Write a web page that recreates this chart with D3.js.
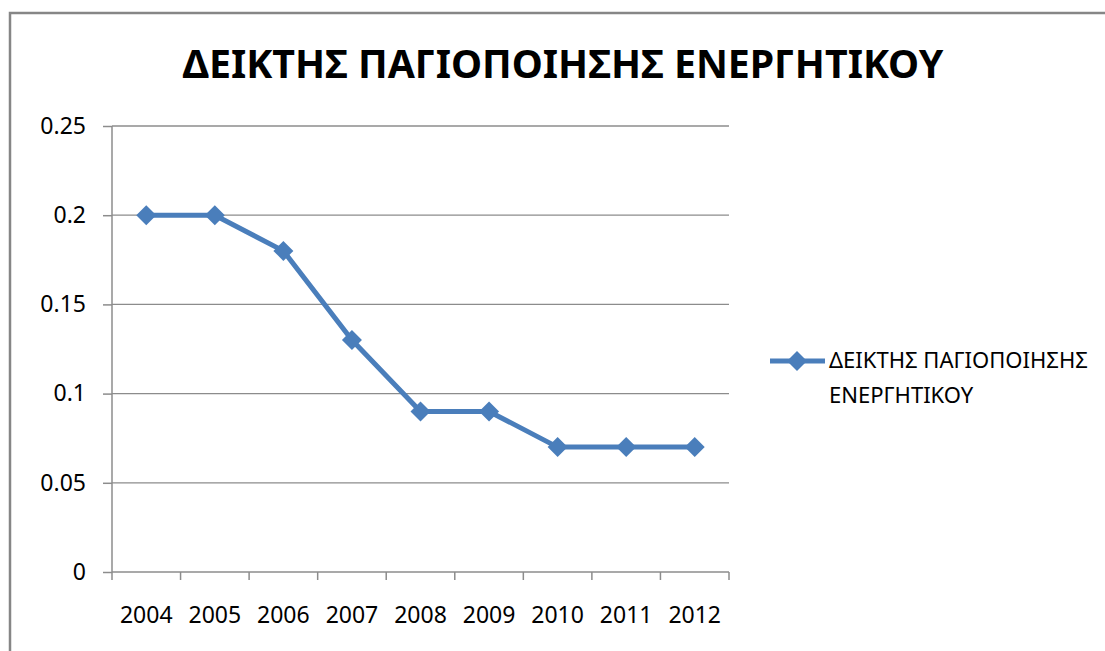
<!DOCTYPE html>
<html>
<head>
<meta charset="utf-8">
<script src="https://cdn.jsdelivr.net/npm/d3@7"></script>
<style>
  body { margin: 0; background: #fff; }
  svg text { font-family: "Noto Sans", "Open Sans", sans-serif; fill: #000; }
</style>
</head>
<body>
<div id="chart"></div>
<script>
// Data
const years = ["2004", "2005", "2006", "2007", "2008", "2009", "2010", "2011", "2012"];
const values = [0.2, 0.2, 0.18, 0.13, 0.09, 0.09, 0.07, 0.07, 0.07];
const yTicks = [0, 0.05, 0.1, 0.15, 0.2, 0.25];
const chartTitle = "ΔΕΙΚΤΗΣ ΠΑΓΙΟΠΟΙΗΣΗΣ ΕΝΕΡΓΗΤΙΚΟΥ";
const legendLines = ["ΔΕΙΚΤΗΣ ΠΑΓΙΟΠΟΙΗΣΗΣ", "ΕΝΕΡΓΗΤΙΚΟΥ"];

const W = 1105, H = 651;
const plot = {left: 112, right: 729, top: 126, bottom: 572};
const blue = "#4a7ebb";
const grid = "#8c8c8c";

const svg = d3.select("#chart").append("svg")
    .attr("width", W)
    .attr("height", H);

// outer chart border
svg.append("rect")
    .attr("x", 10).attr("y", 13)
    .attr("width", W + 20).attr("height", H + 20)
    .attr("fill", "none")
    .attr("stroke", "#868686")
    .attr("stroke-width", 2.5);

// Scales
const x = d3.scaleBand().domain(years).range([plot.left, plot.right]);
const y = d3.scaleLinear().domain([0, 0.25]).range([plot.bottom, plot.top]);

// Gridlines
svg.append("g")
    .selectAll("line")
    .data(yTicks.slice(1))
    .join("line")
    .attr("x1", plot.left).attr("x2", plot.right)
    .attr("y1", d => y(d)).attr("y2", d => y(d))
    .attr("stroke", grid).attr("stroke-width", 1.3);

// Y axis
const yAxis = svg.append("g")
    .attr("transform", `translate(${plot.left},0)`)
    .call(d3.axisLeft(y).tickValues(yTicks).tickSize(9).tickPadding(17)
        .tickFormat(d => String(+d.toFixed(2))));
yAxis.select(".domain").attr("stroke", grid).attr("stroke-width", 1.5).attr("d", `M0,${plot.top}V${plot.bottom}`);
yAxis.selectAll(".tick line").attr("stroke", grid).attr("stroke-width", 1.5);
yAxis.selectAll(".tick text").attr("font-size", 23).attr("font-family", "Noto Sans").attr("fill", "#000");

// X axis (ticks at band edges)
const xAxis = svg.append("g")
    .attr("transform", `translate(0,${plot.bottom})`);
xAxis.append("line")
    .attr("x1", plot.left).attr("x2", plot.right)
    .attr("stroke", grid).attr("stroke-width", 1.5);
const edges = years.map(d => x(d)).concat([x(years[years.length - 1]) + x.bandwidth()]);
xAxis.selectAll(".xt")
    .data(edges)
    .join("line")
    .attr("x1", d => d).attr("x2", d => d)
    .attr("y1", 0).attr("y2", 8)
    .attr("stroke", grid).attr("stroke-width", 1.5);
xAxis.selectAll(".xl")
    .data(years)
    .join("text")
    .attr("x", d => x(d) + x.bandwidth() / 2)
    .attr("y", 51)
    .attr("text-anchor", "middle")
    .attr("font-size", 23)
    .text(d => d);

// Line
const cx = (d, i) => x(years[i]) + x.bandwidth() / 2;
svg.append("path")
    .datum(values)
    .attr("fill", "none")
    .attr("stroke", blue)
    .attr("stroke-width", 5)
    .attr("stroke-linejoin", "round")
    .attr("d", d3.line().x(cx).y(d => y(d)));

const diamond = d3.symbol().type(d3.symbolSquare).size(200);
svg.append("g")
    .selectAll("path")
    .data(values)
    .join("path")
    .attr("d", diamond)
    .attr("transform", (d, i) => `translate(${cx(d, i)},${y(d)}) rotate(45)`)
    .attr("fill", blue);

// Title
const title = svg.append("text")
    .attr("x", 563)
    .attr("y", 78)
    .attr("text-anchor", "middle")
    .attr("font-weight", "bold")
    .attr("font-size", 40)
    .text(chartTitle);
const tw = title.node().getComputedTextLength();
title.attr("font-size", 40 * 761 / tw);

// Legend
const lg = svg.append("g");
lg.append("line")
    .attr("x1", 770).attr("x2", 825)
    .attr("y1", 361).attr("y2", 361)
    .attr("stroke", blue).attr("stroke-width", 5);
lg.append("path")
    .attr("d", diamond)
    .attr("transform", "translate(797,361) rotate(45)")
    .attr("fill", blue);
const lt = lg.selectAll("text")
    .data(legendLines)
    .join("text")
    .attr("x", 829)
    .attr("y", (d, i) => 368 + i * 35)
    .attr("font-size", 20)
    .text(d => d);
const lw = lt.node().getComputedTextLength();
lt.attr("font-size", 20 * 259 / lw);
</script>
</body>
</html>
